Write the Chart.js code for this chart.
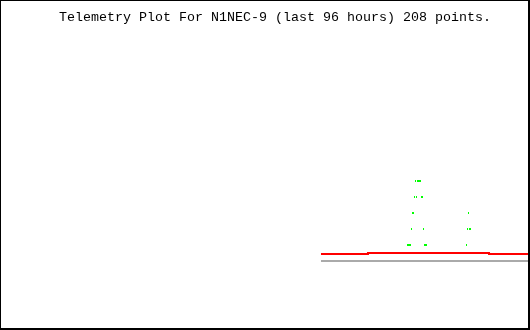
<!DOCTYPE html>
<html>
<head>
<meta charset="utf-8">
<script src="https://cdn.jsdelivr.net/npm/chart.js@4/dist/chart.umd.min.js"></script>
<style>
body { margin: 0; background: #fff; }
#box { width: 530px; height: 330px; box-sizing: border-box; border-style: solid; border-color: #000; border-width: 1px 2px 2px 1px; }
#plot { display: block; }
</style>
</head>
<body>
<div id="box"><canvas id="plot" width="527" height="327"></canvas></div>
<script>
// hours into the 96 hour window, value in plot units
var titulo = 'Telemetry Plot For N1NEC-9 (last 96 hours) 208 points.';

var horasVerde = [74.05, 74.23, 74.41, 74.60, 74.78, 74.96, 75.14, 75.32, 75.51, 75.69,
                  75.87, 76.05, 76.24, 76.42, 76.60, 76.78, 76.96, 77.15, 77.33, 77.51,
                  84.80, 84.98, 85.16, 85.34, 85.53];
var valoresVerde = [5, 5, 5, 5, 6, 7, 7, 8, 9, 8,
                    9, 9, 9, 9, 8, 8, 6, 5, 5, 5,
                    5, 6, 7, 6, 6];

var horasRojo = [58.29, 66.85, 88.90, 96];
var valoresRojo = [4.4375, 4.5, 4.4375, 4.4375];

var horasGris = [58.29, 96];
var valoresGris = [4, 4];

function puntos(xs, ys){
    var out = [];
    for (let i = 0; i < xs.length; i++) {
        out.push({x: xs[i], y: ys[i]});
    }
    return out;
}

// 1x2 green dot
var dot = document.createElement('canvas');
dot.width = 1;
dot.height = 2;
var dctx = dot.getContext('2d');
dctx.fillStyle = '#00ff00';
dctx.fillRect(0, 0, 1, 2);

var tituloPlugin = {
    id: 'tituloPlugin',
    beforeDatasetsDraw: function(chart){
        chart.ctx.imageSmoothingEnabled = false;
    },
    afterDraw: function(chart){
        var ctx = chart.ctx;
        ctx.save();
        ctx.font = '13.33px "Liberation Mono", monospace';
        ctx.fillStyle = '#000';
        ctx.textAlign = 'left';
        ctx.textBaseline = 'alphabetic';
        ctx.fillText(titulo, 58, 20);
        ctx.restore();
    }
};

var ctx = document.getElementById('plot').getContext('2d');
var grafica = new Chart(ctx, {
    type: 'scatter',
    data: {
        datasets: [{
            data: puntos(horasVerde, valoresVerde),
            pointStyle: dot,
            pointRadius: 1,
            showLine: false
        }, {
            data: puntos(horasRojo, valoresRojo),
            showLine: true,
            stepped: true,
            borderColor: '#ff0000',
            borderWidth: 2,
            pointRadius: 0
        }, {
            data: puntos(horasGris, valoresGris),
            showLine: true,
            borderColor: '#aaaaaa',
            borderWidth: 2,
            pointRadius: 0
        }]
    },
    options: {
        responsive: false,
        animation: false,
        layout: { autoPadding: false, padding: { top: 4, bottom: 3, left: 0, right: 0 } },
        scales: {
            x: { type: 'linear', min: 0, max: 96, display: false },
            y: { type: 'linear', min: 0, max: 20, display: false }
        },
        plugins: {
            legend: { display: false },
            title: { display: false },
            tooltip: { enabled: false }
        }
    },
    plugins: [tituloPlugin]
});
</script>
</body>
</html>
